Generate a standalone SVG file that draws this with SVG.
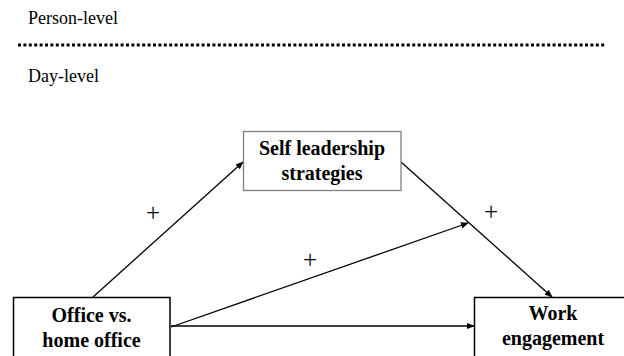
<svg xmlns="http://www.w3.org/2000/svg" width="624" height="356" viewBox="0 0 624 356">
<style>
.lvl{font-family:'Liberation Serif','Times New Roman','DejaVu Serif',serif;font-size:18px;fill:#000}
.nt{font-family:'Liberation Serif','Times New Roman','DejaVu Serif',serif;font-size:20px;font-weight:bold;fill:#000;text-anchor:middle}
.pl{font-family:'Liberation Serif','Times New Roman','DejaVu Serif',serif;font-size:25px;fill:#000;text-anchor:middle}
.box{fill:#fff;stroke:#000;stroke-width:1.5}
.edge{stroke:#000;stroke-width:1.3;fill:none;marker-end:url(#ah)}
</style>
<defs>
<marker id="ah" viewBox="0 0 10 10" refX="9" refY="5" markerWidth="8" markerHeight="8" markerUnits="userSpaceOnUse" orient="auto">
<path d="M0,1 L10,5 L0,9 z" fill="#000"/>
</marker>
</defs>
<rect width="624" height="356" fill="#fff"/>
<g id="levels">
<text class="lvl" x="28" y="24">Person-level</text>
<line x1="18" y1="45" x2="605" y2="45" stroke="#000" stroke-width="3" stroke-dasharray="3 2.4"/>
<text class="lvl" x="28" y="82">Day-level</text>
</g>
<g id="connectors">
<line class="edge" x1="93" y1="297" x2="243" y2="162"/>
<line class="edge" x1="171" y1="327" x2="468" y2="223"/>
<line class="edge" x1="401" y1="162" x2="552" y2="297"/>
<line class="edge" x1="171" y1="326" x2="474" y2="326"/>
<text class="pl" x="153" y="221">+</text>
<text class="pl" x="310" y="268">+</text>
<text class="pl" x="491" y="220">+</text>
</g>
<g id="self-leadership">
<rect x="243.5" y="131.5" width="157.5" height="59" fill="#fff" stroke="#7f7f7f" stroke-width="1.3"/>
<text class="nt" x="322" y="155">Self leadership</text>
<text class="nt" x="322" y="180">strategies</text>
</g>
<g id="office">
<rect class="box" x="13.5" y="297.5" width="156.5" height="64"/>
<text class="nt" x="91.5" y="322">Office vs.</text>
<text class="nt" x="91.5" y="347">home office</text>
</g>
<g id="work-engagement">
<rect class="box" x="474.5" y="297.5" width="160" height="64"/>
<text class="nt" x="553" y="320">Work</text>
<text class="nt" x="553" y="345">engagement</text>
</g>
</svg>
